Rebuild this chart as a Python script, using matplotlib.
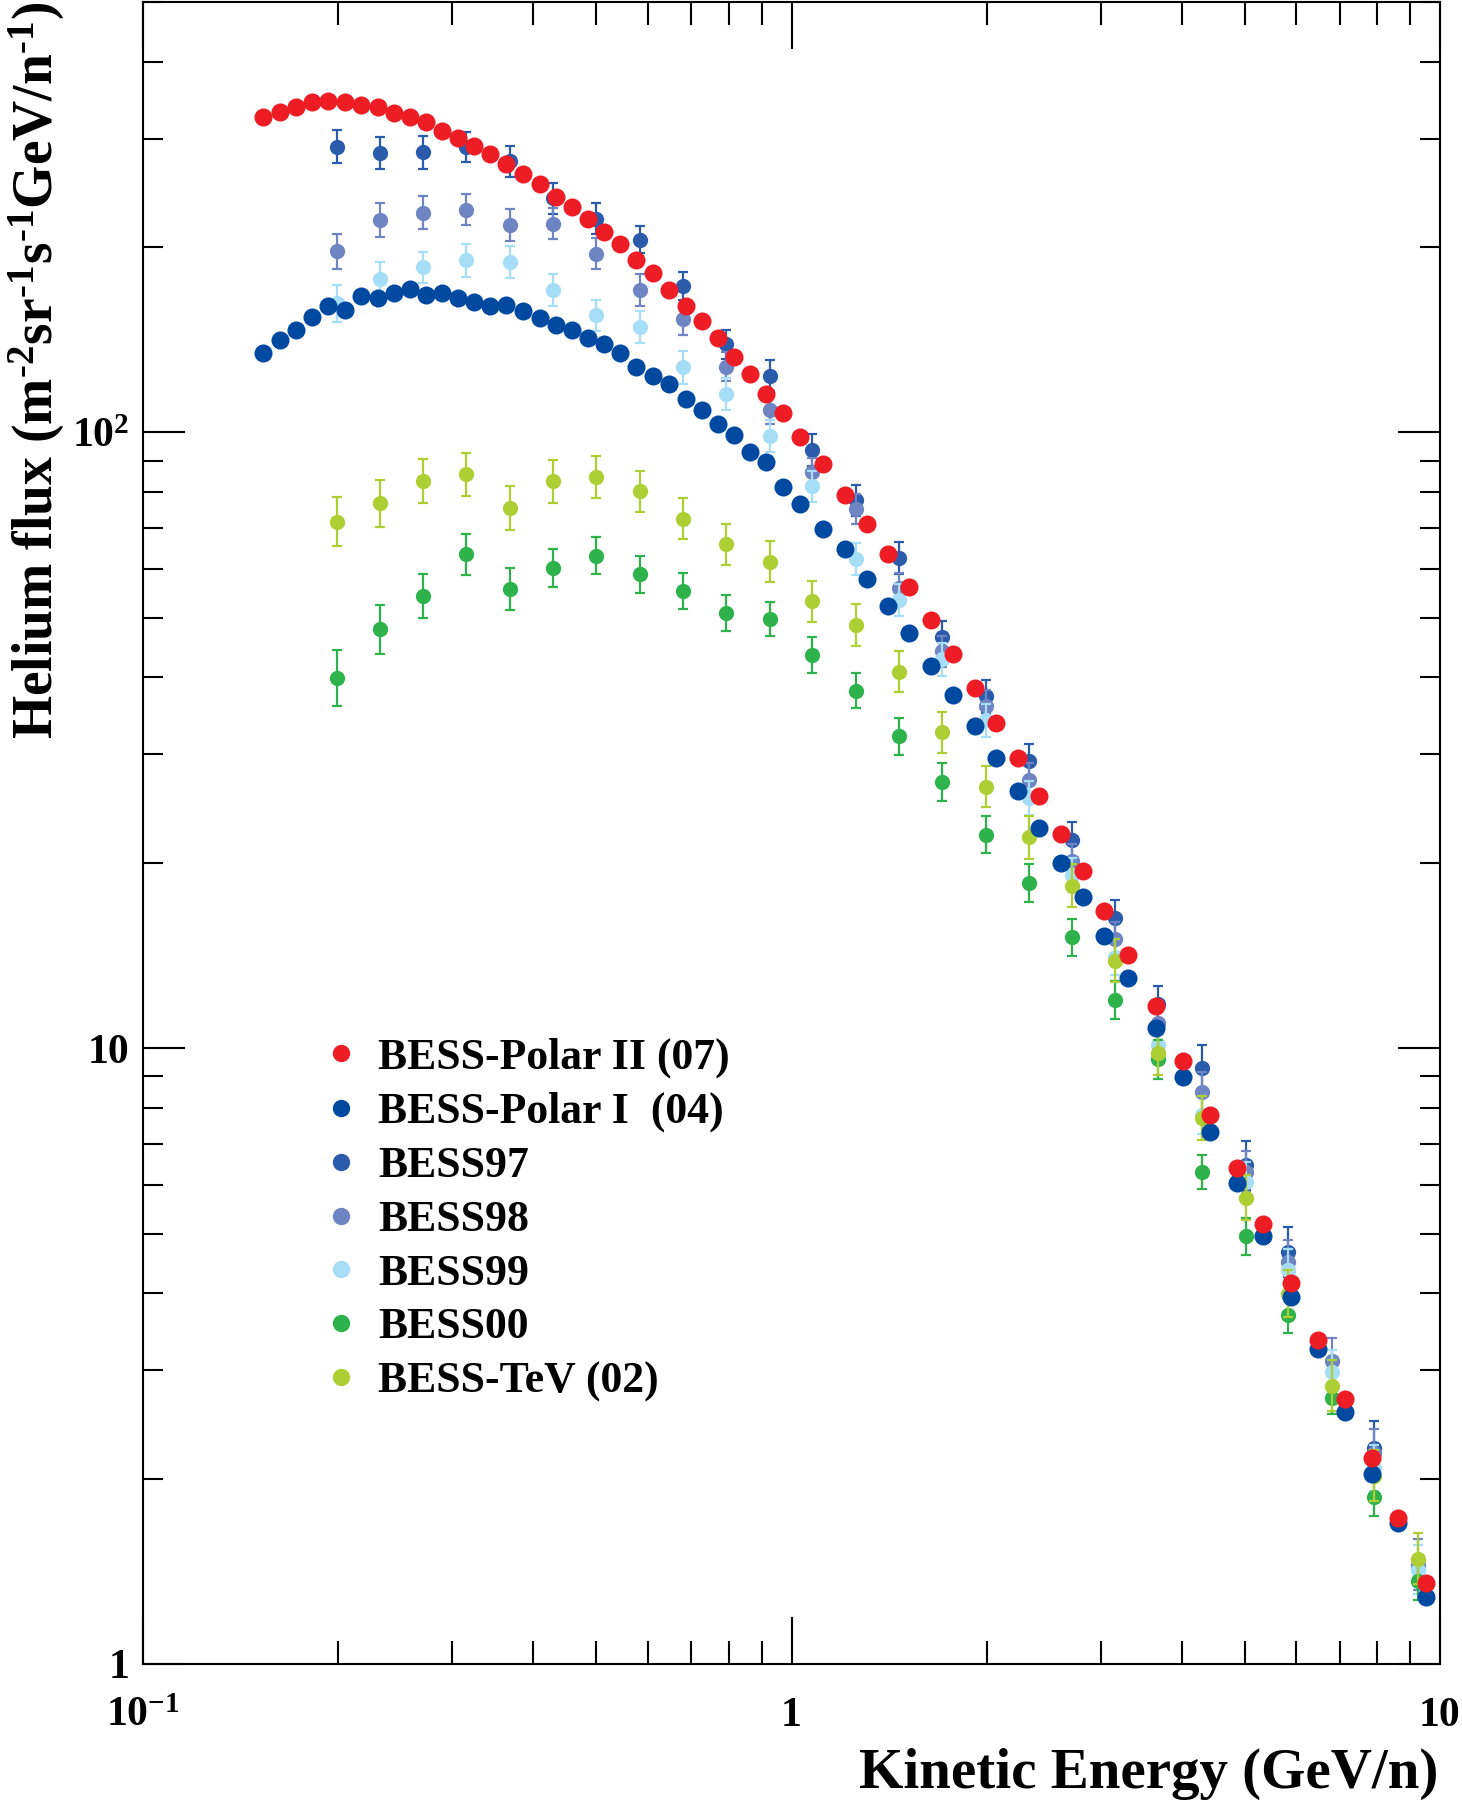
import numpy as np
import matplotlib
matplotlib.use("Agg")
import matplotlib.pyplot as plt
from matplotlib.lines import Line2D
from matplotlib.ticker import FixedLocator, FixedFormatter, LogLocator, NullFormatter

nan = np.nan

# ---------------- data ----------------
# BESS-Polar II (07) and BESS-Polar I (04): same energy bins (GeV/n)
e_polar = [0.1532, 0.1626, 0.1723, 0.1825, 0.1932, 0.2046, 0.2172, 0.2300, 0.2435, 0.2578,
           0.2729, 0.2889, 0.3059, 0.3238, 0.3428, 0.3629, 0.3857, 0.4094, 0.4334, 0.4587,
           0.4856, 0.5141, 0.5441, 0.5759, 0.6106, 0.6464, 0.6868, 0.7272, 0.7697, 0.8150,
           0.8630, 0.9135, 0.9699, 1.031, 1.119, 1.209, 1.306, 1.410, 1.519, 1.641,
           1.776, 1.919, 2.067, 2.233, 2.411, 2.604, 2.812, 3.033, 3.306, 3.649,
           4.011, 4.419, 4.859, 5.340, 5.887, 6.478, 7.137, 7.848, 8.625, 9.515]
flux_polar2 = [325.4, 331.5, 337.8, 343.4, 345.4, 343.4, 340.0, 337.1, 330.7, 325.4,
               318.7, 308.9, 300.9, 291.6, 282.7, 273.3, 263.3, 253.6, 241.3, 232.4,
               222.0, 211.6, 202.0, 190.9, 181.2, 170.2, 160.3, 151.6, 142.1, 132.6,
               124.2, 115.4, 107.4, 98.4, 88.7, 79.2, 71.0, 63.5, 56.2, 49.6,
               43.6, 38.5, 33.8, 29.6, 25.7, 22.3, 19.4, 16.7, 14.15, 11.70,
               9.54, 7.80, 6.40, 5.19, 4.155, 3.362, 2.694, 2.159, 1.728, 1.353]
flux_polar1 = [134.4, 141.1, 146.8, 153.9, 160.2, 158.0, 166.6, 165.2, 168.2, 170.7,
               167.3, 168.2, 165.3, 162.9, 160.6, 160.9, 157.3, 153.6, 149.6, 146.9,
               142.5, 139.0, 134.4, 127.6, 123.4, 119.9, 113.5, 108.8, 103.1, 99.0,
               93.1, 89.6, 81.6, 76.6, 69.8, 64.6, 57.9, 52.2, 47.3, 41.8,
               37.5, 33.35, 29.58, 26.16, 22.79, 20.02, 17.60, 15.23, 12.98, 10.78,
               8.98, 7.31, 6.05, 4.953, 3.938, 3.245, 2.570, 2.037, 1.697, 1.285]

# BESS97 / 98 / 99 / 00 / TeV(02): common energy bins (GeV/n)
e_bess = [0.1993, 0.2321, 0.2706, 0.3152, 0.3681, 0.4288, 0.4995, 0.5830, 0.6805, 0.7929,
          0.9253, 1.077, 1.257, 1.465, 1.708, 1.995, 2.322, 2.707, 3.153, 3.678,
          4.291, 5.017, 5.836, 6.808, 7.920, 9.26]
flux_97 = [290.9, 284.4, 285.1, 290.9, 275.7, 240.1, 222.2, 205.7, 172.8, 139.1,
           123.6, 93.6, 77.6, 62.5, 46.6, 37.3, 29.3, 21.8, 16.27, 11.80,
           9.27, 6.45, 4.66, nan, 2.239, nan]
flux_98 = [196.9, 221.1, 227.3, 230.1, 217.0, 218.4, 195.2, 170.2, 152.6, 127.8,
           108.7, 86.2, 75.1, 55.8, 44.1, 35.97, 27.3, 20.16, 15.03, 11.0,
           8.5, 6.3, 4.5, 3.1, 2.2, 1.45]
flux_99 = [162.0, 177.8, 185.3, 190.4, 189.2, 170.2, 155.0, 148.4, 127.5, 115.4,
           98.6, 81.7, 62.2, 53.4, 42.8, 34.1, 25.45, 19.11, 14.07, 10.11,
           7.80, 6.07, 4.37, 2.98, 2.084, 1.423]
flux_00 = [39.96, 47.9, 54.2, 63.4, 55.7, 60.2, 63.1, 58.8, 55.3, 50.95,
           49.8, 43.5, 38.06, 32.09, 27.05, 22.23, 18.54, 15.13, 11.97, 9.59,
           6.30, 4.95, 3.693, 2.701, 1.865, 1.366]
flux_tev = [71.6, 76.7, 83.3, 85.5, 75.5, 83.3, 84.6, 80.2, 72.4, 65.8,
            61.7, 53.2, 48.7, 40.9, 32.6, 26.6, 21.99, 18.37, 13.88, 9.81,
            7.70, 5.72, 3.99, 2.83, 2.02, 1.483]

# relative errors (fraction of flux)
err_97 = [0.064, 0.063, 0.063, 0.058, 0.060, 0.060, 0.060, 0.053, 0.054, 0.056,
          0.060, 0.063, 0.060, 0.062, 0.062, 0.064, 0.066, 0.068, 0.068, 0.071,
          0.092, 0.094, 0.098, nan, 0.106, nan]
err_98 = [0.068, 0.066, 0.064, 0.060, 0.061, 0.060, 0.061, 0.061, 0.060, 0.056,
          0.053, 0.055, 0.058, 0.060, 0.060, 0.062, 0.064, 0.066, 0.068, 0.070,
          0.075, 0.080, 0.085, 0.090, 0.095, 0.100]
err_99 = [0.073, 0.062, 0.061, 0.063, 0.061, 0.062, 0.059, 0.063, 0.062, 0.062,
          0.061, 0.060, 0.062, 0.062, 0.063, 0.064, 0.066, 0.067, 0.069, 0.071,
          0.074, 0.078, 0.082, 0.086, 0.090, 0.095]
err_00 = [0.110, 0.096, 0.086, 0.079, 0.080, 0.074, 0.072, 0.071, 0.071, 0.069,
          0.067, 0.069, 0.068, 0.071, 0.072, 0.071, 0.075, 0.072, 0.075, 0.075,
          0.066, 0.071, 0.073, 0.059, 0.071, 0.075]
err_tev = [0.096, 0.091, 0.086, 0.084, 0.086, 0.083, 0.082, 0.081, 0.080, 0.081,
           0.080, 0.080, 0.082, 0.080, 0.080, 0.080, 0.082, 0.083, 0.084, 0.085,
           0.085, 0.088, 0.092, 0.100, 0.100, 0.100]

labels = ["BESS-Polar II (07)", "BESS-Polar I  (04)", "BESS97", "BESS98",
          "BESS99", "BESS00", "BESS-TeV (02)"]
colors = ["#EE1C25", "#0049A0", "#2B5BAB", "#6E84C3", "#A7DEF7", "#2EB24B", "#AECF34"]

x_ticks = [0.1, 1, 10]
x_ticklabels = ["10$^{-1}$", "1", "10"]
y_ticks = [1, 10, 100]
y_ticklabels = ["1", "10", "10$^{2}$"]

# ---------------- style ----------------
plt.rcParams["font.family"] = ["Liberation Serif", "DejaVu Serif"]
plt.rcParams["font.weight"] = "bold"
plt.rcParams["mathtext.fontset"] = "custom"
plt.rcParams["mathtext.rm"] = "Liberation Serif:bold"
plt.rcParams["mathtext.it"] = "Liberation Serif:italic:bold"
plt.rcParams["mathtext.bf"] = "Liberation Serif:bold"

W, H = 1462, 1800
fig = plt.figure(figsize=(W / 100, H / 100), dpi=100)
L, R, T, B = 143, 1440, 2, 1664
ax = fig.add_axes([L / W, 1 - B / H, (R - L) / W, (B - T) / H])
ax.set_xscale("log")
ax.set_yscale("log")
ax.set_xlim(0.1, 10)
ax.set_ylim(1, 500)


def draw_err(E, F, Rr, color, z):
    E = np.asarray(E, float)
    F = np.asarray(F, float)
    Rr = np.asarray(Rr, float)
    m = ~np.isnan(F)
    lo = F - F / (1 + Rr)
    hi = F * Rr
    ax.errorbar(E[m], F[m], yerr=[lo[m], hi[m]], fmt="o", color=color, ms=11,
                mec="none", elinewidth=1.6, capsize=3.5, capthick=1.6, zorder=z)


draw_err(e_bess, flux_97, err_97, colors[2], 3)
draw_err(e_bess, flux_98, err_98, colors[3], 4)
draw_err(e_bess, flux_99, err_99, colors[4], 5)
draw_err(e_bess, flux_00, err_00, colors[5], 6)
draw_err(e_bess, flux_tev, err_tev, colors[6], 7)
ax.plot(e_polar, flux_polar1, "o", color=colors[1], ms=13, mec="none", zorder=8)
ax.plot(e_polar, flux_polar2, "o", color=colors[0], ms=13, mec="none", zorder=9)

# ticks
ax.xaxis.set_major_locator(FixedLocator(x_ticks))
ax.xaxis.set_major_formatter(FixedFormatter(x_ticklabels))
ax.xaxis.set_minor_locator(LogLocator(base=10, subs=np.arange(2, 10)))
ax.xaxis.set_minor_formatter(NullFormatter())
ax.yaxis.set_major_locator(FixedLocator(y_ticks))
ax.yaxis.set_major_formatter(FixedFormatter(y_ticklabels))
ax.yaxis.set_minor_locator(LogLocator(base=10, subs=np.arange(2, 10)))
ax.yaxis.set_minor_formatter(NullFormatter())

ax.tick_params(axis="x", which="major", direction="in", length=33.8, width=1.5,
               top=True, bottom=True, labelsize=30, pad=23.5)
ax.tick_params(axis="x", which="minor", direction="in", length=16.6, width=1.5,
               top=True, bottom=True)
ax.tick_params(axis="y", which="major", direction="in", length=30, width=1.5,
               left=True, right=True, labelsize=30, pad=9.5)
ax.tick_params(axis="y", which="minor", direction="in", length=14.4, width=1.5,
               left=True, right=True)
for s in ax.spines.values():
    s.set_linewidth(1.5)

# axis titles
fig.text(1438 / W, 1 - 1788 / H, "Kinetic Energy (GeV/n)", ha="right", va="baseline",
         fontsize=41, fontweight="bold")
fig.text(52.6 / W, 1 - 2 / H,
         "Helium flux (m$^{\u2010 2}$sr$^{\u2010 1}$s$^{\u2010 1}$GeV/n$^{\u2010 1}$)",
         rotation=90, rotation_mode="anchor", ha="right", va="baseline",
         fontsize=40, fontweight="bold")

# legend
handles = [Line2D([], [], marker="o", ls="none", color=c, ms=12.5, mec="none") for c in colors]
ax.legend(handles, labels, loc="upper left", bbox_to_anchor=(0.1358, 0.3769),
          frameon=False, prop={"size": 31.5, "weight": "bold"}, handlelength=1.0,
          handletextpad=0.345, labelspacing=0.315, borderpad=0, borderaxespad=0)

fig.savefig("out.png", dpi=100)
